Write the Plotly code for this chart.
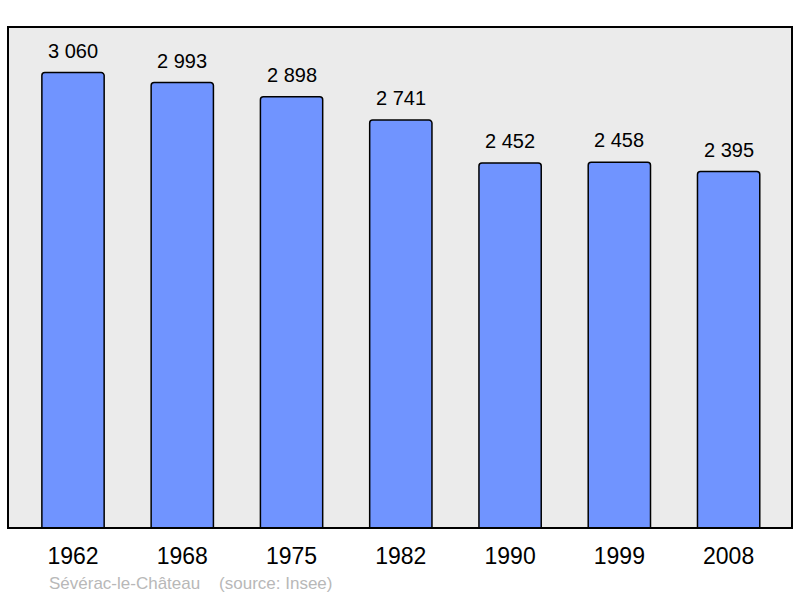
import plotly.graph_objects as go

years = ["1962", "1968", "1975", "1982", "1990", "1999", "2008"]
population = [3060, 2993, 2898, 2741, 2452, 2458, 2395]
labels = ["3 060", "2 993", "2 898", "2 741", "2 452", "2 458", "2 395"]
commune = "Sévérac-le-Château"
source = "(source: Insee)"

FONT = "Liberation Sans, Arial, sans-serif"

fig = go.Figure()
fig.add_trace(go.Bar(
    x=list(range(len(years))), y=population,
    width=0.57,
    marker=dict(color="#7094ff", line=dict(color="#000000", width=1.5), cornerradius=3),
    hoverinfo="skip",
))

for i, (v, t) in enumerate(zip(population, labels)):
    fig.add_annotation(x=i, y=v, text=t, showarrow=False, yanchor="bottom",
                       yshift=9, font=dict(size=20, color="#000000", family=FONT))

fig.add_annotation(xref="paper", yref="paper", x=0.050, y=-0.111, xanchor="left",
                   yanchor="middle", showarrow=False,
                   text=commune + "&nbsp;&nbsp;&nbsp;&nbsp;" + source,
                   font=dict(size=17, color="#b8b8b8", family=FONT))

fig.add_shape(type="rect", xref="paper", yref="paper", x0=0, x1=1, y0=0, y1=1,
              line=dict(color="#000000", width=2), layer="above")

fig.update_layout(
    width=800, height=598,
    margin=dict(l=8, r=8, t=27, b=70),
    paper_bgcolor="#ffffff", plot_bgcolor="#ebebeb",
    showlegend=False,
    xaxis=dict(range=[-0.595, 6.58], tickmode="array", tickvals=list(range(len(years))),
               ticktext=years, showgrid=False, zeroline=False, showline=False,
               ticks="", ticklabelstandoff=12,
               tickfont=dict(size=23, color="#000000", family=FONT),
               fixedrange=True),
    yaxis=dict(range=[0, 3366], showgrid=False, zeroline=False, showline=False,
               showticklabels=False, ticks="", fixedrange=True),
)

fig.write_html("out.html", config={"displayModeBar": False},
               post_script="document.body.style.margin='0';document.body.style.overflow='hidden';")
